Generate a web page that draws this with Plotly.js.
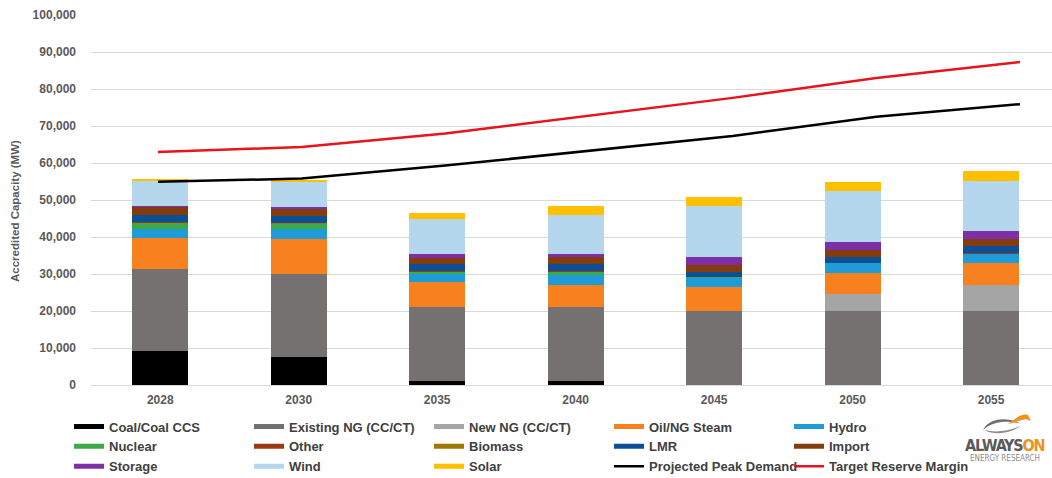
<!DOCTYPE html>
<html>
<head>
<meta charset="utf-8">
<script src="https://cdn.plot.ly/plotly-3.0.1.min.js"></script>
<style>
  html, body { margin: 0; padding: 0; background: #ffffff; }
  #chart { width: 1052px; height: 478px; }
</style>
</head>
<body>
<div id="chart"></div>
<script>
// Accredited capacity by resource type (MW), with peak demand and reserve target
const years = ['2028', '2030', '2035', '2040', '2045', '2050', '2055'];

const coal       = [9200, 7500, 1100, 1100, 0, 0, 0];
const existingNG = [22200, 22500, 20100, 20100, 20000, 20000, 20000];
const newNG      = [0, 0, 0, 0, 0, 4500, 7000];
const oilSteam   = [8400, 9500, 6600, 5800, 6400, 5900, 5900];
const hydro      = [2300, 2600, 2200, 2700, 2400, 2500, 2600];
const nuclear    = [1800, 1400, 600, 900, 300, 0, 0];
const other      = [100, 100, 100, 100, 100, 100, 100];
const biomass    = [100, 100, 100, 100, 100, 100, 100];
const lmr        = [1900, 2000, 1800, 1900, 1300, 1600, 1900];
const imports    = [2000, 1800, 1800, 1800, 1800, 1900, 1800];
const storage    = [400, 500, 900, 900, 2300, 2000, 2200];
const wind       = [6700, 6900, 9500, 10600, 13800, 13900, 13500];
const solar      = [700, 600, 1800, 2400, 2200, 2300, 2700];

const peakDemand    = [54900, 55800, 59300, 63300, 67300, 72500, 75900];
const reserveMargin = [63000, 64300, 68000, 72800, 77600, 83000, 87300];

const seriesNames = ['Coal/Coal CCS', 'Existing NG (CC/CT)', 'New NG (CC/CT)', 'Oil/NG Steam', 'Hydro',
                     'Nuclear', 'Other', 'Biomass', 'LMR', 'Import', 'Storage', 'Wind', 'Solar'];
const seriesValues = [coal, existingNG, newNG, oilSteam, hydro, nuclear, other, biomass, lmr, imports, storage, wind, solar];
const seriesColors = ['#000000', '#767171', '#A5A5A5', '#F7801F', '#1F9BD7', '#3CAA46', '#9A3A0E',
                      '#A07800', '#0B4F96', '#843C0C', '#7F2FA5', '#B4D7EE', '#FFC000'];

// plot-area geometry, used for placing decorations
const M = { l: 91, r: 0, t: 15, b: 93, autoexpand: false };
const W = 1052, H = 478;
const pw = W - M.l - M.r, ph = H - M.t - M.b;
const px = x => (x - M.l) / pw;
const py = y => (H - M.b - y) / ph;

const FONT = 'Liberation Sans, Arial, Helvetica, sans-serif';
const traces = [];

// stacked bars
seriesNames.forEach((name, i) => {
  traces.push({
    type: 'bar', name: name, x: years, y: seriesValues[i],
    marker: { color: seriesColors[i], line: { width: 0 } },
    showlegend: false, legendgroup: name, hoverinfo: 'name+y'
  });
});

// legend swatches (thick line keys) for the bar series
seriesNames.forEach((name, i) => {
  traces.push({
    type: 'scatter', mode: 'lines', name: name, x: [null], y: [null], xaxis: 'x2',
    line: { color: seriesColors[i], width: 5 }, legendgroup: name, hoverinfo: 'skip'
  });
});

const lineX = years.map((_, i) => i);
traces.push({
  type: 'scatter', mode: 'lines', name: 'Projected Peak Demand', x: lineX, y: peakDemand, xaxis: 'x2',
  line: { color: '#000000', width: 2.5 }
});
traces.push({
  type: 'scatter', mode: 'lines', name: 'Target Reserve Margin', x: lineX, y: reserveMargin, xaxis: 'x2',
  line: { color: '#E8141B', width: 2.5 }
});

// logo swoosh
function path(cmds) {
  return cmds.map(c => {
    if (typeof c === 'string') return c;
    return px(c[0]).toFixed(5) + ',' + py(c[1]).toFixed(5);
  }).join(' ');
}

const shapes = [
  { type: 'path', xref: 'paper', yref: 'paper', layer: 'above',
    path: path(['M', [983, 430], 'C', [990, 417], [1008, 417], [1022, 424], 'C', [1008, 420], [993, 421], [983, 430], 'Z']),
    fillcolor: '#6E6E6E', line: { width: 0 } },
  { type: 'path', xref: 'paper', yref: 'paper', layer: 'above',
    path: path(['M', [984, 430], 'C', [996, 436], [1012, 433], [1022, 425], 'C', [1012, 431], [996, 433], [984, 430], 'Z']),
    fillcolor: '#8C8C8C', line: { width: 0 } },
  { type: 'path', xref: 'paper', yref: 'paper', layer: 'above',
    path: path(['M', [1008, 424], 'C', [1016, 418], [1022, 413], [1028, 415], 'L', [1031, 421], 'L', [1026, 419], 'C', [1020, 420], [1014, 423], [1008, 424], 'Z']),
    fillcolor: '#F0901E', line: { width: 0 } }
];

const annotations = [
  { text: 'Accredited Capacity (MW)', textangle: -90, xref: 'paper', yref: 'paper',
    x: px(15), y: py(211), xanchor: 'center', yanchor: 'middle', showarrow: false,
    font: { family: FONT, size: 11.5, color: '#595959', weight: 'bold' } },
  { text: '<span style="letter-spacing:-1.2px">ALWAYS<span style="color:#F0901E">ON</span></span>',
    xref: 'paper', yref: 'paper',
    x: px(1004), y: py(445), xanchor: 'center', yanchor: 'middle', showarrow: false,
    font: { family: 'DejaVu Sans Condensed, Liberation Sans Narrow, Arial Narrow, sans-serif', size: 16, color: '#5A5A5A', weight: 'bold' } },
  { text: 'ENERGY RESEARCH', xref: 'paper', yref: 'paper',
    x: px(1005), y: py(458), xanchor: 'center', yanchor: 'middle', showarrow: false,
    font: { family: 'DejaVu Sans Condensed, Liberation Sans Narrow, sans-serif', size: 8, color: '#8C8C8C' } }
];

const tickFont = { family: FONT, size: 12, color: '#595959', weight: 'bold' };

const layout = {
  width: W, height: H,
  margin: M,
  paper_bgcolor: '#ffffff', plot_bgcolor: '#ffffff',
  barmode: 'stack', bargap: 0.595,
  showlegend: true,
  xaxis: { type: 'category', range: [-0.5, 6.44], showgrid: false, showline: false, zeroline: false,
           ticks: '', tickfont: tickFont, ticklabelstandoff: 6, fixedrange: true, automargin: false },
  xaxis2: { overlaying: 'x', type: 'linear', range: [-0.466, 6.223], visible: false, fixedrange: true },
  yaxis: { range: [0, 100000], dtick: 10000, tickformat: ',', showgrid: true, gridcolor: '#D9D9D9', gridwidth: 1,
           zeroline: true, zerolinecolor: '#D9D9D9', zerolinewidth: 1, showline: false, ticks: '',
           tickfont: tickFont, ticklabelstandoff: 14, fixedrange: true, automargin: false },
  legend: { orientation: 'h', x: px(69), xanchor: 'left', y: py(411.5), yanchor: 'top',
            entrywidth: 135, itemwidth: 30, tracegroupgap: 0, bgcolor: 'rgba(0,0,0,0)',
            font: { family: FONT, size: 13, color: '#404040', weight: 'bold' } },
  shapes: shapes,
  annotations: annotations
};

Plotly.newPlot('chart', traces, layout, { displayModeBar: false, staticPlot: true });
</script>
</body>
</html>
